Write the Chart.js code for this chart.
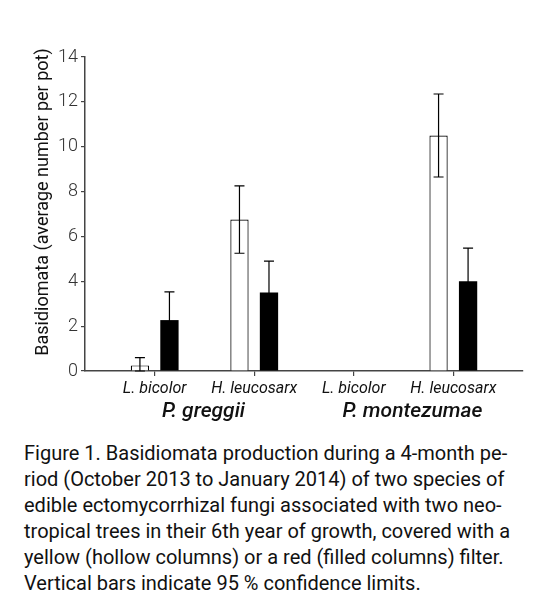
<!DOCTYPE html>
<html>
<head>
<meta charset="utf-8">
<script src="https://cdn.jsdelivr.net/npm/chart.js@4/dist/chart.umd.min.js"></script>
<style>
  html, body { margin: 0; padding: 0; background: #fff; }
  #wrap { position: relative; width: 544px; height: 607px; }
  #chart { position: absolute; left: 0; top: 0; }
  #caption {
    position: absolute; left: 24px; top: 440px; width: 477px;
    font-family: Roboto, sans-serif; font-size: 20px; line-height: 26px; color: #111;
  }
  #caption div { text-align: justify; text-align-last: justify; white-space: nowrap; }
  #caption div.last { text-align-last: left; }
</style>
</head>
<body>
<div id="wrap">
  <canvas id="chart" width="544" height="430"></canvas>
  <div id="caption">
    <div>Figure 1. Basidiomata production during a 4-month pe-</div>
    <div>riod (October 2013 to January 2014) of two species of</div>
    <div>edible ectomycorrhizal fungi associated with two neo-</div>
    <div>tropical trees in their 6th year of growth, covered with a</div>
    <div>yellow (hollow columns) or a red (filled columns) filter.</div>
    <div class="last">Vertical bars indicate 95 % confidence limits.</div>
  </div>
</div>
<script>
// fungus under each tick, tree species under each pair of ticks
var categories = ['L. bicolor', 'H. leucosarx', 'L. bicolor', 'H. leucosarx'];
var groups = ['P. greggii', 'P. montezumae'];
var groupCenters = [0.49, 2.59];

// hollow = yellow filter, filled = red filter
var yellowMeans = [0.25, 6.75, null, 10.5];
var yellowUpper = [0.6, 8.25, null, 12.35];
var yellowLower = [0, 5.25, null, 8.65];

var redMeans = [2.27, 3.5, null, 4.0];
var redUpper = [3.53, 4.9, null, 5.48];
var redLower = [1.0, 2.1, null, 2.5];

var yTicks = [0, 2, 4, 6, 8, 10, 12, 14];
var yTitle = 'Basidiomata (average number per pot)';

function pts(arr){
  return arr.map(function(v, i){ return {x: i, y: v}; });
}

var errorBars = {
  id: 'errorBars',
  afterDatasetsDraw: function(chart){
    var ctx = chart.ctx, ys = chart.scales.y;
    chart.data.datasets.forEach(function(ds, d){
      var meta = chart.getDatasetMeta(d);
      meta.data.forEach(function(bar, i){
        if (ds.upper[i] == null) return;
        var top = ys.getPixelForValue(ds.upper[i]);
        var bot = ys.getPixelForValue(ds.lower[i]);
        ctx.save();
        ctx.strokeStyle = '#000';
        ctx.lineWidth = 1.2;
        ctx.beginPath();
        ctx.moveTo(bar.x, top); ctx.lineTo(bar.x, bot);
        ctx.moveTo(bar.x - 5, top); ctx.lineTo(bar.x + 5, top);
        ctx.moveTo(bar.x - 5, bot); ctx.lineTo(bar.x + 5, bot);
        ctx.stroke();
        ctx.restore();
      });
    });
  }
};

var extraText = {
  id: 'extraText',
  afterDraw: function(chart){
    var ctx = chart.ctx, xs = chart.scales.x;
    ctx.save();
    ctx.fillStyle = '#111';
    ctx.textAlign = 'center';
    ctx.textBaseline = 'middle';
    ctx.font = 'italic 500 21px Roboto';
    groups.forEach(function(g, i){
      ctx.fillText(g, xs.getPixelForValue(groupCenters[i]), 412);
    });
    ctx.translate(43, 202);
    ctx.rotate(-Math.PI / 2);
    ctx.font = '18px Roboto';
    ctx.fillText(yTitle, 0, 0);
    ctx.restore();
  }
};

new Chart(document.getElementById('chart'), {
  type: 'bar',
  data: {
    datasets: [
      {
        data: pts(yellowMeans), upper: yellowUpper, lower: yellowLower,
        backgroundColor: '#fff', borderColor: '#000', borderWidth: 1.2,
        categoryPercentage: 0.593, barPercentage: 0.62
      },
      {
        data: pts(redMeans), upper: redUpper, lower: redLower,
        backgroundColor: '#000', borderColor: '#000', borderWidth: 0,
        categoryPercentage: 0.593, barPercentage: 0.62
      }
    ]
  },
  options: {
    responsive: false,
    animation: false,
    layout: { padding: { top: 57, right: 21, left: 0, bottom: 0 } },
    plugins: { legend: { display: false }, tooltip: { enabled: false } },
    scales: {
      x: {
        type: 'linear',
        min: -0.7, max: 3.7,
        offset: false,
        afterBuildTicks: function(s){ s.ticks = categories.map(function(c, i){ return {value: i}; }); },
        afterFit: function(s){ s.height = 59; },
        grid: { offset: false, drawOnChartArea: false, drawTicks: true, tickLength: 5, color: '#444', lineWidth: 1.2 },
        border: { display: true, color: '#444', width: 1.5 },
        ticks: {
          padding: 3,
          color: '#111',
          font: { family: 'Roboto', size: 16, style: 'italic' },
          callback: function(v){ return categories[v]; }
        }
      },
      y: {
        min: 0, max: 14,
        afterBuildTicks: function(s){ s.ticks = yTicks.map(function(v){ return {value: v}; }); },
        afterFit: function(s){ s.width = 85; },
        grid: { drawOnChartArea: false, drawTicks: true, tickLength: 4, color: '#444', lineWidth: 1.2 },
        border: { display: true, color: '#444', width: 1.5 },
        ticks: {
          padding: 3,
          color: '#333',
          font: { family: 'Roboto', size: 18, weight: 300 }
        }
      }
    }
  },
  plugins: [errorBars, extraText]
});
</script>
</body>
</html>
